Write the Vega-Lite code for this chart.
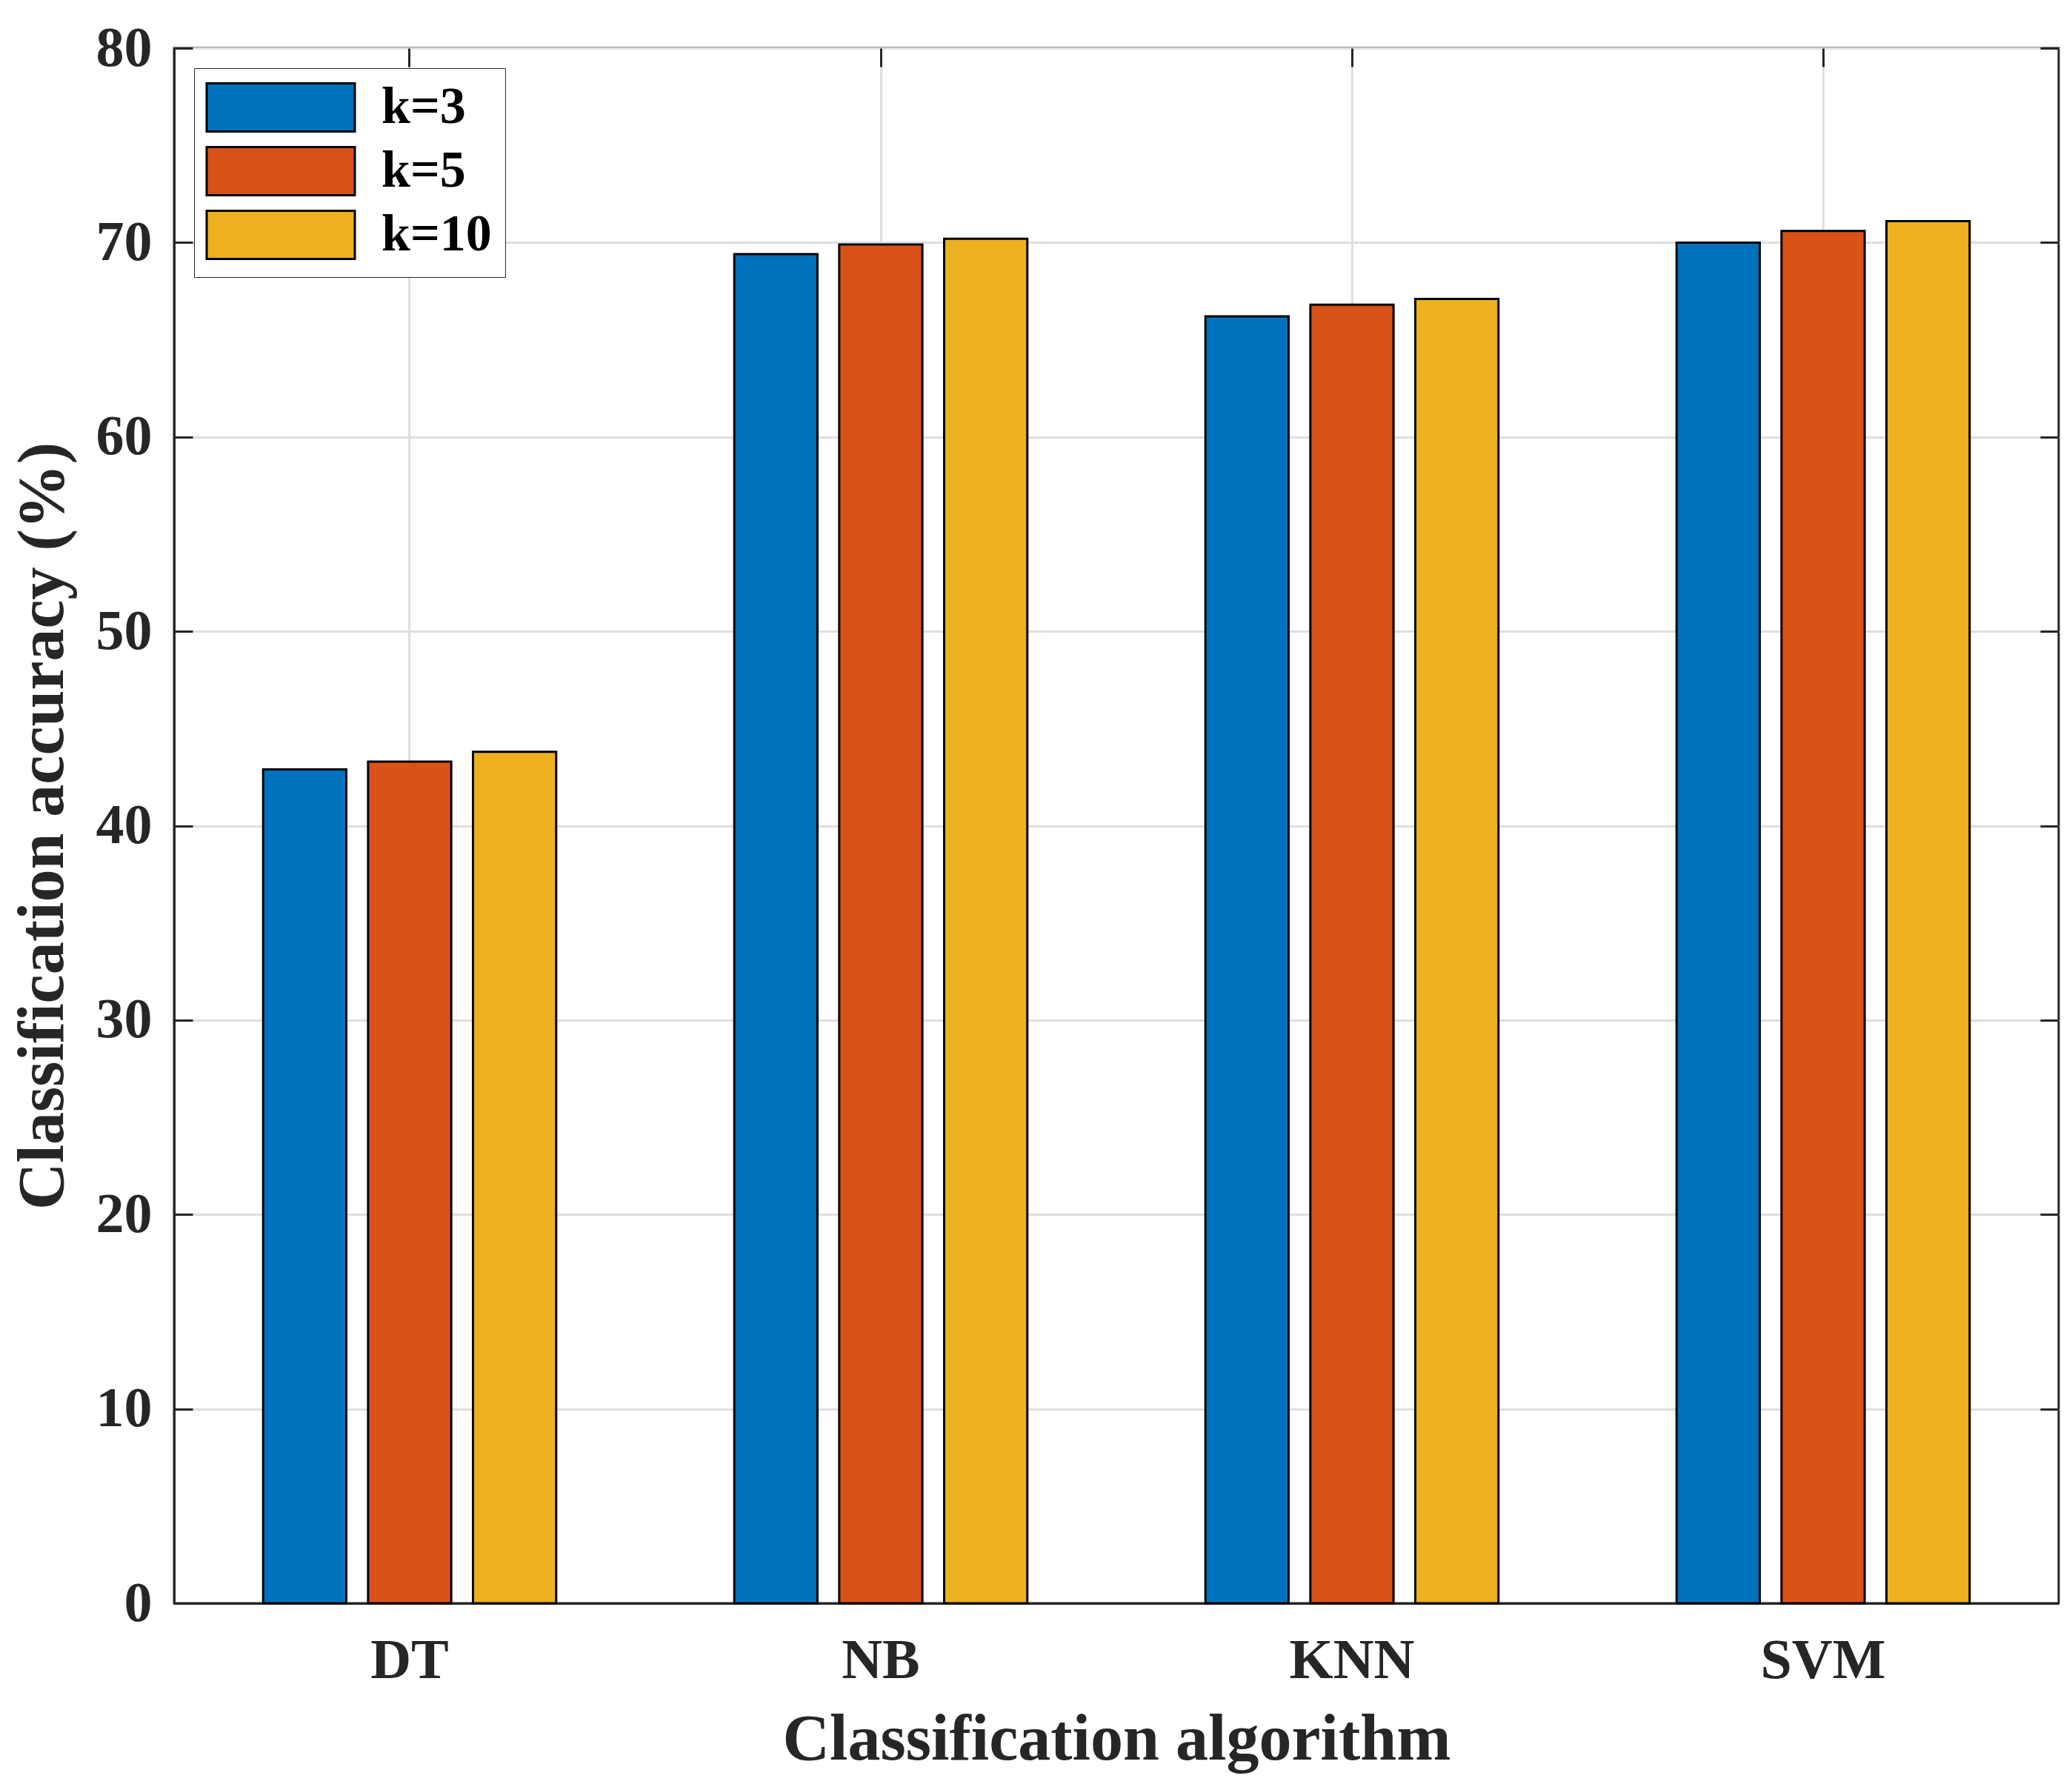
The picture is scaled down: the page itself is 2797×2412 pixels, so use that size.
{
  "$schema": "https://vega.github.io/schema/vega-lite/v6.json",
  "width": 2544,
  "height": 2099,
  "autosize": "none",
  "padding": {"left": 235, "top": 65, "right": 18, "bottom": 248},
  "background": "white",
  "config": {"view": {"stroke": "#262626", "strokeWidth": 3}, "font": "Liberation Serif"},
  "data": {"values": [
    {"algorithm": "DT", "k": "k=3", "accuracy": 42.9},
    {"algorithm": "DT", "k": "k=5", "accuracy": 43.3},
    {"algorithm": "DT", "k": "k=10", "accuracy": 43.8},
    {"algorithm": "NB", "k": "k=3", "accuracy": 69.4},
    {"algorithm": "NB", "k": "k=5", "accuracy": 69.9},
    {"algorithm": "NB", "k": "k=10", "accuracy": 70.2},
    {"algorithm": "KNN", "k": "k=3", "accuracy": 66.2},
    {"algorithm": "KNN", "k": "k=5", "accuracy": 66.8},
    {"algorithm": "KNN", "k": "k=10", "accuracy": 67.1},
    {"algorithm": "SVM", "k": "k=3", "accuracy": 70.0},
    {"algorithm": "SVM", "k": "k=5", "accuracy": 70.6},
    {"algorithm": "SVM", "k": "k=10", "accuracy": 71.1}
  ]},
  "layer": [
    {
      "mark": {"type": "bar", "stroke": "black", "strokeWidth": 3},
      "encoding": {
        "x": {
          "field": "algorithm", "type": "nominal", "sort": ["DT", "NB", "KNN", "SVM"],
          "scale": {"paddingInner": 0.378, "paddingOuter": 0.189},
          "axis": {
            "title": "Classification algorithm", "orient": "bottom", "labelAngle": 0, "bandPosition": 0.5,
            "grid": true, "gridColor": "#DFDFDF", "gridWidth": 3,
            "ticks": true, "tickSize": -25, "tickWidth": 3, "tickColor": "#262626",
            "domainColor": "#262626", "domainWidth": 3,
            "labelFont": "Liberation Serif", "labelFontWeight": "bold", "labelFontSize": 76, "labelColor": "#262626", "labelPadding": 65,
            "titleFont": "Liberation Serif", "titleFontWeight": "bold", "titleFontSize": 88, "titleColor": "#262626", "titlePadding": 25
          }
        },
        "xOffset": {"field": "k", "type": "nominal", "sort": ["k=3", "k=5", "k=10"], "scale": {"paddingInner": 0.2075, "paddingOuter": 0}},
        "y": {
          "field": "accuracy", "type": "quantitative",
          "scale": {"domain": [0, 80], "nice": false},
          "axis": {
            "title": "Classification accuracy (%)", "orient": "left", "values": [0, 10, 20, 30, 40, 50, 60, 70, 80],
            "grid": true, "gridColor": "#DFDFDF", "gridWidth": 3,
            "ticks": true, "tickSize": -25, "tickWidth": 3, "tickColor": "#262626",
            "domainColor": "#262626", "domainWidth": 3,
            "labelFont": "Liberation Serif", "labelFontWeight": "bold", "labelFontSize": 76, "labelColor": "#262626", "labelPadding": 55,
            "titleFont": "Liberation Serif", "titleFontWeight": "bold", "titleFontSize": 88, "titleColor": "#262626", "titlePadding": 27
          }
        },
        "color": {
          "field": "k", "type": "nominal", "sort": ["k=3", "k=5", "k=10"],
          "scale": {"domain": ["k=3", "k=5", "k=10"], "range": ["#0072BD", "#D95319", "#EDB120"]},
          "legend": {
            "title": null, "orient": "none", "legendX": 27, "legendY": 27,
            "symbolType": "M-3.077,-1H3.077V1H-3.077Z", "symbolSize": 4225,
            "symbolStrokeColor": "black", "symbolStrokeWidth": 3, "symbolOpacity": 1,
            "symbolOffset": 64,
            "labelFont": "Liberation Serif", "labelFontWeight": "bold", "labelFontSize": 70, "labelColor": "black",
            "labelOffset": 101, "rowPadding": 8, "padding": 18,
            "strokeColor": "#262626", "fillColor": "white"
          }
        }
      }
    },
    {
      "mark": {"type": "bar", "opacity": 0},
      "encoding": {
        "x": {
          "field": "algorithm", "type": "nominal", "sort": ["DT", "NB", "KNN", "SVM"],
          "axis": {"orient": "top", "title": null, "labels": false, "grid": false, "domain": false, "bandPosition": 0.5,
                   "ticks": true, "tickSize": -25, "tickWidth": 3, "tickColor": "#262626"}
        },
        "xOffset": {"field": "k", "type": "nominal", "sort": ["k=3", "k=5", "k=10"]},
        "y": {
          "field": "accuracy", "type": "quantitative",
          "axis": {"orient": "right", "title": null, "labels": false, "grid": false, "domain": false,
                   "values": [0, 10, 20, 30, 40, 50, 60, 70, 80],
                   "ticks": true, "tickSize": -25, "tickWidth": 3, "tickColor": "#262626"}
        }
      }
    }
  ],
  "resolve": {"axis": {"x": "independent", "y": "independent"}}
}
